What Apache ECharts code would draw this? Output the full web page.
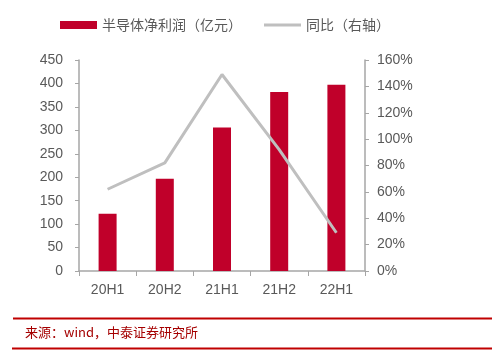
<!DOCTYPE html>
<html><head><meta charset="utf-8">
<script src="https://cdn.jsdelivr.net/npm/echarts@6/dist/echarts.min.js"></script>
<style>html,body{margin:0;padding:0;background:#fff;}#c{width:500px;height:364px;}</style>
</head><body><div id="c"></div>
<script>
const categories = ['20H1','20H2','21H1','21H2','22H1'];
const profit = [122, 197, 306, 382, 397];
const yoy = [62, 82, 149, 92, 29];
const leftTicks = [0,50,100,150,200,250,300,350,400,450];
const rightTicks = [0,20,40,60,80,100,120,140,160];

const chart = echarts.init(document.getElementById('c'), null, {renderer:'canvas'});
const axisColor = '#a6a6a6';
const labelColor = '#595959';
chart.setOption({
  animation:false,
  backgroundColor:'#fff',
  legend:{
    top:18, left:60, padding:0, itemGap:22, itemWidth:37, itemHeight:8,
    textStyle:{color:labelColor, fontSize:14, fontFamily:'Noto Sans CJK SC'},
    data:[{name:'半导体净利润（亿元）', icon:'rect'},{name:'同比（右轴）', icon:'path://M0,0H40V3H0Z'}]
  },
  grid:{left:79, right:135, top:60, bottom:93},
  xAxis:{
    type:'category', data:categories,
    axisLine:{lineStyle:{color:axisColor, width:1.5}},
    axisTick:{show:true, length:5, lineStyle:{color:axisColor}},
    axisLabel:{color:labelColor, fontSize:14, fontFamily:'Liberation Sans', margin:12}
  },
  yAxis:[{
    type:'value', min:0, max:450, interval:50,
    axisLine:{show:true, lineStyle:{color:axisColor, width:1.5}},
    axisTick:{show:true, length:4, lineStyle:{color:axisColor}},
    splitLine:{show:false},
    axisLabel:{color:labelColor, fontSize:14, fontFamily:'Liberation Sans', margin:16}
  },{
    type:'value', min:0, max:160, interval:20,
    axisLine:{show:true, lineStyle:{color:axisColor, width:1.5}},
    axisTick:{show:true, length:4, lineStyle:{color:axisColor}},
    splitLine:{show:false},
    axisLabel:{color:labelColor, fontSize:14, fontFamily:'Liberation Sans', margin:12, formatter:'{value}%'}
  }],
  series:[{
    name:'半导体净利润（亿元）', type:'bar', data:profit, barWidth:18,
    itemStyle:{color:'#C0002A'}
  },{
    name:'同比（右轴）', type:'line', yAxisIndex:1, data:yoy,
    symbol:'none', lineStyle:{color:'#BFBFBF', width:3}, itemStyle:{color:'#BFBFBF'}
  }],
  graphic:[
    {type:'line', shape:{x1:13,y1:318.5,x2:492,y2:318.5}, style:{stroke:'#C00000', lineWidth:2}},
    {type:'text', left:25, top:326, style:{text:'来源：wind，中泰证券研究所', fill:'#A50000', font:'13px "Noto Sans CJK SC"'}},
    {type:'line', shape:{x1:12,y1:348.5,x2:492,y2:348.5}, style:{stroke:'#C00000', lineWidth:2}}
  ]
});
</script></body></html>
